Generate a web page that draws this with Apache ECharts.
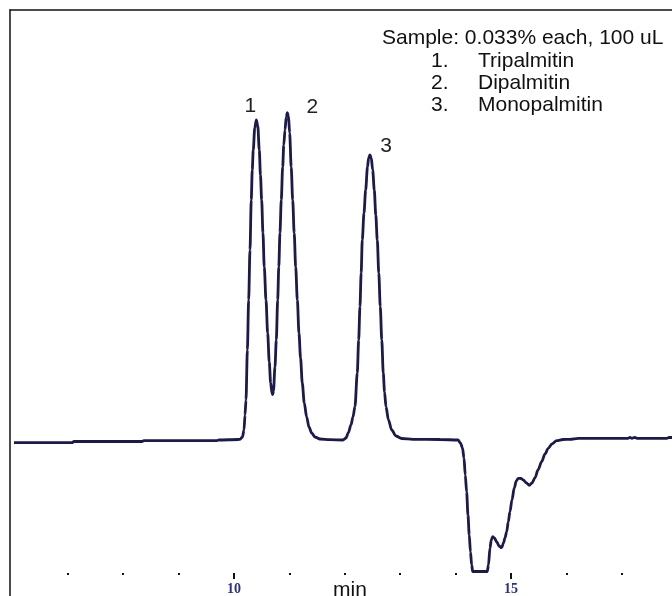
<!DOCTYPE html>
<html>
<head>
<meta charset="utf-8">
<title>Chromatogram</title>
<script src="https://cdn.jsdelivr.net/npm/echarts@6/dist/echarts.min.js"></script>
<style>
  html, body { margin: 0; padding: 0; background: #fff; }
  #chart { width: 672px; height: 596px; }
</style>
</head>
<body>
<div id="chart"></div>
<script>
// retention time (min) and detector signal (arbitrary units, 0 = axis level)
const retentionTime = [
  6.029, 7.076, 7.112, 8.339, 8.375, 9.693, 9.729, 10.072,
  10.108, 10.153, 10.181, 10.199, 10.217, 10.242, 10.265, 10.289, 10.312, 10.330, 10.348, 10.375,
  10.403, 10.430, 10.457, 10.478, 10.500, 10.523, 10.547, 10.578, 10.608, 10.637, 10.662, 10.686,
  10.699, 10.713, 10.740, 10.764, 10.789, 10.809, 10.830, 10.854, 10.879, 10.899, 10.921, 10.944,
  10.962, 10.984, 11.005, 11.033, 11.060, 11.087, 11.114, 11.144, 11.173, 11.202, 11.233, 11.269,
  11.312, 11.354, 11.403, 11.462, 11.552, 11.733, 11.968,
  12.022, 12.063, 12.112, 12.148, 12.184, 12.226, 12.251, 12.274, 12.296, 12.316, 12.347, 12.377,
  12.410, 12.431, 12.455, 12.478, 12.504, 12.533, 12.560, 12.587, 12.614, 12.641, 12.668, 12.695,
  12.718, 12.744, 12.789, 12.847, 12.924, 13.027, 13.231, 13.719, 14.043,
  14.089, 14.125, 14.152, 14.175, 14.200, 14.224, 14.247, 14.269, 14.291, 14.309, 14.572, 14.594,
  14.621, 14.645, 14.670, 14.702, 14.742, 14.784, 14.832, 14.865, 14.892, 14.923, 14.951, 14.982,
  15.018, 15.060, 15.096, 15.132, 15.181, 15.222, 15.280, 15.331, 15.379, 15.433, 15.488, 15.554,
  15.614, 15.673, 15.740, 15.825, 15.939, 16.065, 16.215, 17.112, 17.148, 17.184, 17.239, 17.275,
  17.816, 17.852, 17.907
];
const detectorSignal = [
  130.3, 130.3, 131.5, 131.5, 132.4, 132.4, 133, 133.5,
  133.7, 136, 143, 158, 173, 223, 273, 323, 373, 403, 423, 445,
  453, 447, 423, 398, 373, 340, 306, 273, 240, 211, 190, 180,
  178.5, 182, 206, 233, 273, 306, 340, 373, 406, 428, 443, 456,
  460.3, 457, 440, 406, 373, 340, 306, 273, 240, 215, 190, 170,
  156, 146, 140, 136, 134, 133.3, 133,
  135, 140, 148, 156, 166.3, 200, 233, 266.3, 300, 333, 360, 383,
  406, 415, 418, 415, 403, 383, 358, 333, 300, 266.3, 233, 200,
  181, 166.3, 153, 143, 137, 134.5, 133.7, 133.5, 133,
  130, 125, 115, 98, 81, 58, 38, 21, 8, 1.5, 1.5, 8,
  25, 33, 36.3, 35, 31.3, 27, 25.3, 30, 35, 41.3, 51, 61.3,
  73, 85, 92, 94.7, 94.5, 93, 90, 87.7, 90, 95, 103, 111.3,
  119, 124.7, 129, 132.3, 133.5, 133.7, 134.7, 134.7, 135.7, 134.7, 135.7, 134.7,
  134.7, 135.5, 135.5
];

const peakNames = ['1', '2', '3'];
const peakTimes = [10.403, 10.962, 12.455];
const peakHeights = [453, 460.3, 418];

const compounds = ['Tripalmitin', 'Dipalmitin', 'Monopalmitin'];
const sampleNote = 'Sample: 0.033% each, 100 uL';

const minorTicks = [7, 8, 9, 11, 12, 13, 14, 16, 17];
const majorTicks = [10, 15];

const tMin = 5.957, tMax = 17.907;
const sMin = -23, sMax = 563;

const lineColor = '#1a1a4c';
const frameColor = '#111';
const textFont = 'Liberation Sans, Arial, sans-serif';
const peakLabelOffsets = [[-6, -14], [25, -5], [16, -9]];

const chart = echarts.init(document.getElementById('chart'));

const series = [{
  type: 'line',
  xAxisIndex: 0,
  yAxisIndex: 0,
  data: retentionTime.map((t, i) => [t, detectorSignal[i]]),
  showSymbol: false,
  smooth: 0.3,
  smoothMonotone: 'x',
  lineStyle: { color: lineColor, width: 2.8 },
  silent: true,
  markPoint: {
    symbol: 'circle',
    symbolSize: 0,
    silent: true,
    data: peakNames.map((n, i) => ({
      coord: [peakTimes[i], peakHeights[i]],
      value: n,
      label: {
        show: true,
        formatter: n,
        offset: peakLabelOffsets[i],
        color: '#222',
        fontSize: 21,
        fontFamily: textFont
      }
    }))
  }
}];

const richText = { width: 47, fontSize: 21, lineHeight: 22, color: '#111', fontWeight: 'normal', fontFamily: textFont };

const option = {
  animation: false,
  backgroundColor: '#fff',
  title: [{
    text: sampleNote,
    left: 382,
    top: 27,
    padding: 0,
    textStyle: {
      color: '#111', fontSize: 21, fontWeight: 'normal',
      fontFamily: textFont, lineHeight: 22
    }
  }, {
    text: compounds.map((c, i) => '{n|' + (i + 1) + '.}{t|' + c + '}').join('\n'),
    left: 431,
    top: 50,
    padding: 0,
    textStyle: {
      fontWeight: 'normal',
      rich: {
        n: richText,
        t: Object.assign({}, richText, { width: null })
      }
    }
  }],
  grid: [
    { left: 10, right: 0, top: 10, bottom: 0, outerBoundsMode: 'none', containLabel: false },
    { left: 10, right: 0, top: 10, bottom: 23, outerBoundsMode: 'none', containLabel: false }
  ],
  xAxis: [{
    // top frame line
    type: 'value', gridIndex: 0, position: 'top', min: tMin, max: tMax,
    axisLine: { show: true, onZero: false, lineStyle: { color: frameColor, width: 1.5 } },
    axisTick: { show: false }, axisLabel: { show: false }, splitLine: { show: false }
  }, {
    // minor dots at each minute, sitting at signal 0
    type: 'value', gridIndex: 0, position: 'bottom', min: tMin, max: tMax,
    axisLine: { show: false, onZero: true, onZeroAxisIndex: 0 },
    axisTick: { show: true, customValues: minorTicks, length: 2, lineStyle: { color: '#111', width: 2 } },
    axisLabel: { show: false }, splitLine: { show: false }
  }, {
    // major ticks, labels and axis name
    type: 'value', gridIndex: 1, position: 'bottom', min: tMin, max: tMax,
    name: 'min', nameLocation: 'middle', nameGap: 7, nameMoveOverlap: false,
    nameTextStyle: { color: '#111', fontSize: 21, fontFamily: textFont, padding: [0, 0, 0, 18] },
    axisLine: { show: false, onZero: false },
    axisTick: { show: true, customValues: majorTicks, length: 6, lineStyle: { color: '#111', width: 2 } },
    axisLabel: {
      show: true, customValues: majorTicks, margin: 9,
      color: '#2b2f8f', fontSize: 14, fontWeight: 'bold', fontFamily: 'Liberation Serif, Times New Roman, serif'
    },
    splitLine: { show: false }
  }],
  yAxis: [{
    type: 'value', gridIndex: 0, min: sMin, max: sMax,
    axisLine: { show: true, onZero: false, lineStyle: { color: frameColor, width: 1.5 } },
    axisTick: { show: false }, axisLabel: { show: false }, splitLine: { show: false }
  }, {
    type: 'value', gridIndex: 1, min: 0, max: 1, show: false
  }],
  series: series
};

chart.setOption(option);
</script>
</body>
</html>
